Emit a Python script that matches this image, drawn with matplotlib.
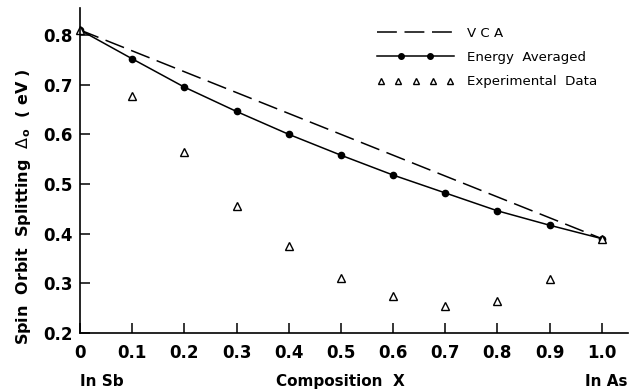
import matplotlib.pyplot as plt
from matplotlib.lines import Line2D
from matplotlib.legend_handler import HandlerLine2D, HandlerTuple

# composition x (InSb -> InAs)
x = [0.0, 0.1, 0.2, 0.3, 0.4, 0.5, 0.6, 0.7, 0.8, 0.9, 1.0]
energy_avg = [0.81, 0.752, 0.695, 0.646, 0.600, 0.558, 0.518, 0.482, 0.446, 0.417, 0.390]
experimental = [0.81, 0.678, 0.565, 0.455, 0.375, 0.310, 0.274, 0.255, 0.265, 0.309, 0.390]
vca_x = [0.0, 1.0]
vca = [0.81, 0.390]

xticks = [0, 0.1, 0.2, 0.3, 0.4, 0.5, 0.6, 0.7, 0.8, 0.9, 1.0]
xtick_labels = ['0', '0.1', '0.2', '0.3', '0.4', '0.5', '0.6', '0.7', '0.8', '0.9', '1.0']
yticks = [0.2, 0.3, 0.4, 0.5, 0.6, 0.7, 0.8]

plt.rcParams['font.family'] = ['DejaVu Sans']

fig = plt.figure(figsize=(6.37, 3.92), dpi=100)
ax = fig.add_axes([0.1256, 0.1505, 0.86, 0.83])

ax.plot(vca_x, vca, color='black', lw=1.1, dashes=(13, 5))
ax.plot(x, energy_avg, color='black', lw=1.1, marker='o', ms=4.5)
ax.plot(x, experimental, color='black', ls='none', marker='^', ms=6,
        mfc='white', mew=1.0, clip_on=False)

ax.set_xlim(0, 1.05)
ax.set_ylim(0.2, 0.855)
ax.spines['top'].set_visible(False)
ax.spines['right'].set_visible(False)
ax.spines['left'].set_linewidth(1.2)
ax.spines['bottom'].set_linewidth(1.2)

ax.set_xticks(xticks)
ax.set_xticklabels(xtick_labels)
ax.set_yticks(yticks)
ax.tick_params(direction='in', length=7, width=1.1, labelsize=12)
ax.tick_params(axis='y', pad=5)
ax.tick_params(axis='x', pad=8)
for lab in ax.get_xticklabels() + ax.get_yticklabels():
    lab.set_fontweight('bold')

ax.set_ylabel('Spin  Orbit  Splitting  $\\Delta_\\mathbf{o}$  ( eV )',
              fontsize=11.5, fontweight='bold')
ax.yaxis.set_label_coords(-0.085, 0.39)

fig.text(0.1256, 0.015, 'In Sb', fontsize=11, fontweight='bold', ha='left')
fig.text(0.535, 0.015, 'Composition  X', fontsize=11, fontweight='bold', ha='center')
fig.text(0.985, 0.015, 'In As', fontsize=11, fontweight='bold', ha='right')

# legend handles
h_vca = Line2D([], [], color='black', lw=1.1, dashes=(13, 5))
h_line = Line2D([], [], color='black', lw=1.1)
h_dots = Line2D([], [], color='black', ls='none', marker='o', ms=4)
h_exp = Line2D([], [], color='black', ls='none', marker='^', ms=5, mfc='white', mew=1.0)
handles = [h_vca, (h_line, h_dots), h_exp]
labels = ['V C A', 'Energy  Averaged', 'Experimental  Data']
ax.legend(handles, labels, loc='upper left', bbox_to_anchor=(0.52, 0.978),
          frameon=False, fontsize=9.6, handlelength=5.8, handletextpad=0.95,
          labelspacing=0.85,
          handler_map={tuple: HandlerTuple(ndivide=1, pad=0),
                       h_dots: HandlerLine2D(numpoints=2, marker_pad=1.8),
                       h_exp: HandlerLine2D(numpoints=5)})

fig.savefig('out.png', dpi=100)
